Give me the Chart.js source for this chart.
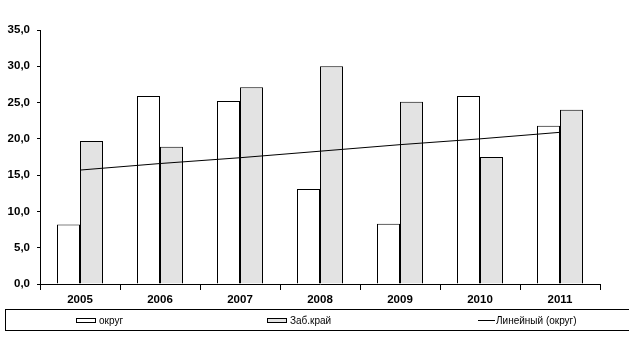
<!DOCTYPE html>
<html>
<head>
<meta charset="utf-8">
<script src="https://cdn.jsdelivr.net/npm/chart.js@4/dist/chart.umd.min.js"></script>
<style>
  html, body { margin: 0; padding: 0; background: #fff; }
  #wrap { position: relative; width: 629px; height: 353px; overflow: hidden; }
  #c { position: absolute; left: 0; top: 0; }
  #legend { position: absolute; left: 5px; top: 309px; width: 640px; height: 22px;
    border: 1px solid #000; box-sizing: border-box; font-family: "Liberation Sans", Arial, sans-serif;
    font-size: 10px; color: #000; }
  .item { position: absolute; top: 4px; display: flex; align-items: center; height: 12px; }
  .box { width: 20px; height: 5px; border: 1px solid #000; box-sizing: border-box; margin-right: 3px; }
  .ln { width: 17px; height: 0; border-top: 1px solid #000; margin-right: 1px; }
</style>
</head>
<body>
<div id="wrap">
  <canvas id="c" width="629" height="353"></canvas>
  <div id="legend"></div>
</div>
<script>
const categories = ["2005", "2006", "2007", "2008", "2009", "2010", "2011"];
const okrug = [8.2, 25.9, 25.2, 13.1, 8.3, 25.9, 21.8];
const zabKrai = [19.7, 18.9, 27.1, 30.0, 25.1, 17.5, 24.0];
const trendOkrug = [15.7, 16.6, 17.4, 18.3, 19.2, 20.0, 20.9];
const seriesNames = ["округ", "Заб.край", "Линейный (округ)"];

const FONT = '"Liberation Sans", Arial, sans-serif';

new Chart(document.getElementById('c'), {
  type: 'bar',
  data: {
    labels: categories,
    datasets: [
      { type: 'line', label: seriesNames[2], data: trendOkrug, borderColor: '#000', borderWidth: 1,
        pointRadius: 0, tension: 0, fill: false, order: 0 },
      { label: seriesNames[0], data: okrug, backgroundColor: '#ffffff', borderColor: '#000',
        borderWidth: 1, barPercentage: 1.0, categoryPercentage: 0.575, order: 1 },
      { label: seriesNames[1], data: zabKrai, backgroundColor: '#e3e3e3', borderColor: '#000',
        borderWidth: 1, barPercentage: 1.0, categoryPercentage: 0.575, order: 1 }
    ]
  },
  options: {
    responsive: false,
    devicePixelRatio: 1,
    animation: false,
    layout: { padding: { top: 30, right: 29, left: 0, bottom: 0 } },
    plugins: { legend: { display: false }, tooltip: { enabled: false } },
    scales: {
      x: {
        offset: true,
        grid: { offset: true, drawOnChartArea: false, color: '#000', tickLength: 6, lineWidth: 1 },
        border: { color: '#000', width: 1 },
        ticks: { color: '#000', padding: 3, font: { family: FONT, size: 11.5, weight: 'bold' }, maxRotation: 0 },
        afterFit: (s) => { s.height = 69; }
      },
      y: {
        min: 0, max: 35,
        grid: { drawOnChartArea: false, color: '#000', tickLength: 3, lineWidth: 1 },
        border: { color: '#000', width: 1 },
        ticks: { stepSize: 5, color: '#000', padding: 7,
          font: { family: FONT, size: 11.5, weight: 'bold' },
          callback: (v) => v.toFixed(1).replace('.', ',') },
        afterFit: (s) => { s.width = 40; }
      }
    }
  }
});

const legend = document.getElementById('legend');
const items = [
  { x: 70, kind: 'box', color: '#ffffff', text: seriesNames[0] },
  { x: 261, kind: 'box', color: '#e3e3e3', text: seriesNames[1] },
  { x: 472, kind: 'line', text: seriesNames[2] }
];
items.forEach(it => {
  const d = document.createElement('div');
  d.className = 'item';
  d.style.left = it.x + 'px';
  const m = document.createElement('div');
  if (it.kind === 'box') { m.className = 'box'; m.style.background = it.color; }
  else { m.className = 'ln'; }
  const t = document.createElement('span');
  t.textContent = it.text;
  d.appendChild(m); d.appendChild(t);
  legend.appendChild(d);
});
</script>
</body>
</html>
